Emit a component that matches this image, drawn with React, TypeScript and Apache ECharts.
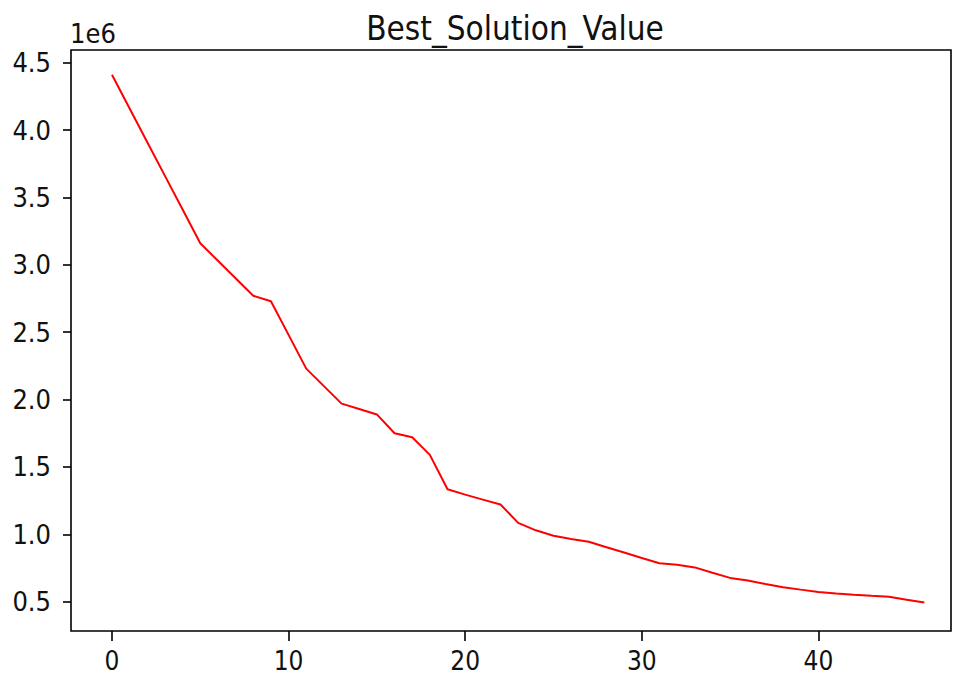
import React, { useEffect, useRef } from "react";
import * as echarts from "echarts";

const iterations: number[] = Array.from({ length: 47 }, (_, i) => i);
const bestValues: number[] = [
  4.41, 4.16, 3.91, 3.66, 3.41, 3.16, 3.03, 2.9, 2.77, 2.73,
  2.48, 2.23, 2.1, 1.97, 1.93, 1.89, 1.75, 1.72, 1.59, 1.335,
  1.295, 1.258, 1.222, 1.085, 1.03, 0.99, 0.966, 0.945, 0.905, 0.865,
  0.825, 0.786, 0.775, 0.755, 0.715, 0.677, 0.658, 0.632, 0.608, 0.59,
  0.573, 0.562, 0.552, 0.544, 0.537, 0.515, 0.494,
].map((v) => v * 1e6);
const xTicks: number[] = [0, 10, 20, 30, 40];
const yTicks: number[] = [0.5, 1.0, 1.5, 2.0, 2.5, 3.0, 3.5, 4.0, 4.5].map((v) => v * 1e6);
const titleText = "Best_Solution_Value";
const offsetText = "1e6";

const FONT = "'DejaVu Sans Condensed', 'DejaVu Sans', sans-serif";

export default function App() {
  const ref = useRef<HTMLDivElement>(null);
  useEffect(() => {
    if (!ref.current) return;
    const chart = echarts.init(ref.current, null, { renderer: "svg" });
    chart.setOption({
      animation: false,
      backgroundColor: "#ffffff",
      grid: {
        left: 71,
        top: 50,
        right: 3,
        bottom: 44,
        show: true,
        borderColor: "#000000",
        borderWidth: 1.6,
        backgroundColor: "transparent",
      },
      xAxis: {
        type: "value",
        min: -2.32,
        max: 47.51,
        axisLine: { show: false, onZero: false },
        splitLine: { show: false },
        axisTick: {
          show: true,
          inside: false,
          length: 10,
          lineStyle: { color: "#000", width: 1.6 },
          customValues: xTicks,
        },
        axisLabel: {
          show: true,
          margin: 17,
          color: "#111",
          fontSize: 26,
          lineHeight: 26,
          fontFamily: FONT,
          customValues: xTicks,
          formatter: (v: number) => String(v),
        },
      },
      yAxis: {
        type: "value",
        min: 0.283e6,
        max: 4.594e6,
        axisLine: { show: false, onZero: false },
        splitLine: { show: false },
        axisTick: {
          show: true,
          inside: false,
          length: 8,
          lineStyle: { color: "#000", width: 1.6 },
          customValues: yTicks,
        },
        axisLabel: {
          show: true,
          margin: 20,
          color: "#111",
          fontSize: 27,
          fontFamily: FONT,
          customValues: yTicks,
          formatter: (v: number) => (v / 1e6).toFixed(1),
        },
      },
      graphic: [
        {
          type: "text",
          x: 515,
          y: 28,
          style: {
            text: titleText,
            fill: "#111",
            font: `33px ${FONT}`,
            textAlign: "center",
            textVerticalAlign: "middle",
          },
        },
        {
          type: "text",
          x: 70,
          y: 33,
          style: {
            text: offsetText,
            fill: "#111",
            font: `27px ${FONT}`,
            textAlign: "left",
            textVerticalAlign: "middle",
          },
        },
      ],
      series: [
        {
          type: "line",
          data: iterations.map((x, i) => [x, bestValues[i]]),
          showSymbol: false,
          symbol: "none",
          lineStyle: { color: "#ff0000", width: 2 },
        },
      ],
    });
    return () => chart.dispose();
  }, []);
  return (
    <div
      ref={ref}
      style={{ position: "fixed", left: 0, top: 0, width: 954, height: 675 }}
    />
  );
}
